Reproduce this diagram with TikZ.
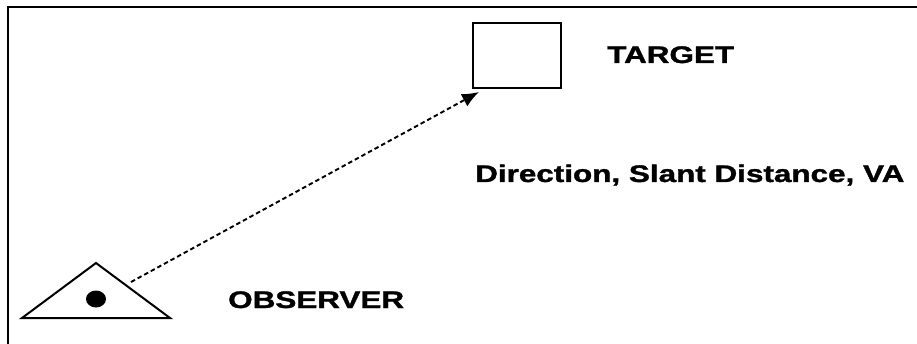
\documentclass[tikz,border=0pt]{standalone}
\usepackage{fontspec}
\usepackage{graphicx}
\setmainfont{Liberation Sans}[BoldFeatures={FakeBold=1.2}]
\usetikzlibrary{arrows.meta}
\newcommand{\widetext}[1]{\scalebox{1.31}[1]{#1}}
\tikzset{
  frameline/.style={line width=2pt},
  outline/.style={draw, line width=2pt},
  label/.style={inner sep=0pt, anchor=base west, font=\fontsize{24}{28}\selectfont\bfseries},
  dashedarrow/.style={line width=1.9pt, dash pattern=on 4.5pt off 3pt, -{Latex[length=17pt,width=14pt]}}
}
\begin{document}
\begin{tikzpicture}[x=1pt,y=-1pt]
\useasboundingbox (0,0) rectangle (917,344);
% frame
\draw[frameline] (8,344) -- (8,7.5) -- (917,7.5);
% target box
\node[outline, minimum width=88pt, minimum height=65pt, inner sep=0pt] (target) at (517,55.5) {};
% observer triangle
\coordinate (apex) at (96,263);
\coordinate (bl) at (22,318);
\coordinate (br) at (170,318);
\draw[line width=2pt, line join=miter] (apex) -- (br) -- (bl) -- cycle;
\fill (96,299) ellipse [x radius=10pt, y radius=8.5pt];
% arrow
\coordinate (obsstart) at (131,282);
\coordinate (tgtend) at (479,92);
\draw[dashedarrow] (obsstart) -- (tgtend);
% labels
\node[label] (tlabel) at (607,63) {\widetext{TARGET}};
\node[label] (dlabel) at (475,182) {\widetext{Direction, Slant Distance, VA}};
\node[label] (olabel) at (228,308) {\widetext{OBSERVER}};
\end{tikzpicture}
\end{document}
